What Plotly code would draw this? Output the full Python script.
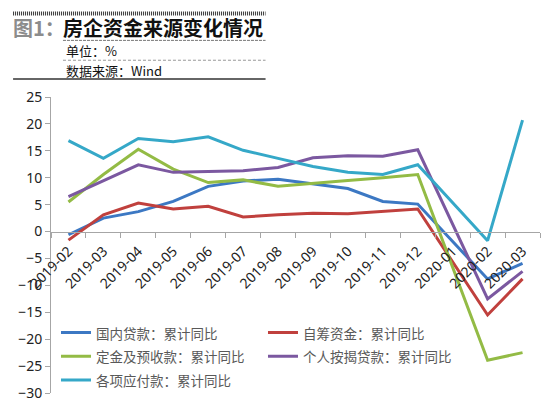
import plotly.graph_objects as go

months = ['2019-02', '2019-03', '2019-04', '2019-05', '2019-06', '2019-07', '2019-08',
          '2019-09', '2019-10', '2019-11', '2019-12', '2020-01', '2020-02', '2020-03']

# 累计同比, %（2020-01 无单独数据）
domestic_loans = [-0.6, 2.5, 3.7, 5.6, 8.4, 9.4, 9.7, 8.9, 8.0, 5.6, 5.1, None, -8.8, -5.9]
self_raised = [-1.6, 3.1, 5.3, 4.2, 4.7, 2.7, 3.1, 3.4, 3.3, 3.8, 4.2, None, -15.5, -8.8]
deposits_prepay = [5.5, 10.6, 15.3, 11.6, 9.1, 9.6, 8.4, 9.0, 9.5, 10.0, 10.6, None, -23.9, -22.5]
mortgage = [6.5, 9.4, 12.4, 11.0, 11.1, 11.3, 11.9, 13.7, 14.1, 14.0, 15.2, None, -12.5, -7.4]
payables = [16.9, 13.6, 17.3, 16.7, 17.6, 15.1, 13.6, 12.1, 11.0, 10.6, 12.4, None, -1.7, 20.7]

series = [
    ('国内贷款：累计同比', domestic_loans, '#3C78C3'),
    ('自筹资金：累计同比', self_raised, '#C0403D'),
    ('定金及预收款：累计同比', deposits_prepay, '#93BB45'),
    ('个人按揭贷款：累计同比', mortgage, '#7B58A0'),
    ('各项应付款：累计同比', payables, '#35A8C8'),
]

# page has an 8px body margin, so the figure is drawn a bit smaller
OFF = 8
W, H = 550 - OFF, 412 - OFF
L, R, T, B = 50 - OFF, 10, 97 - OFF, 17
y_min, y_max = -30, 25


def px_x(px):
    # page pixel -> paper x
    return (px - OFF - L) / (W - L - R)


def px_y(py):
    # page pixel -> paper y
    return (H - B - (py - OFF)) / (H - T - B)


fig = go.Figure()
for name, vals, color in series:
    fig.add_trace(go.Scatter(x=months, y=vals, mode='lines', connectgaps=True,
                             name='<span style="font-size:13.5px">%s</span>' % name,
                             line=dict(color=color, width=3)))

fig.update_layout(
    width=W, height=H,
    margin=dict(l=L, r=R, t=T, b=B),
    paper_bgcolor='white', plot_bgcolor='white',
    font=dict(family='Noto Sans, sans-serif', color='#333333'),
    showlegend=True,
    legend=dict(orientation='h', x=px_x(55), y=px_y(317), xanchor='left', yanchor='top',
                entrywidth=162, entrywidthmode='pixels', tracegroupgap=0,
                font=dict(family='Noto Sans CJK SC', size=16, color='#595959'),
                bgcolor='rgba(0,0,0,0)'),
)

fig.update_xaxes(
    type='category', range=[-0.5, len(months) - 0.5],
    anchor='free', position=(0 - y_min) / (y_max - y_min),
    showline=True, linecolor='#A6A6A6', linewidth=1,
    ticks='outside', ticklen=5, tickcolor='#A6A6A6', tickson='boundaries',
    tickangle=-45, ticklabelstandoff=5, tickfont=dict(size=14, color='#222222'),
    showgrid=False, zeroline=False,
)
fig.update_yaxes(
    range=[y_min, y_max], dtick=5,
    showline=True, linecolor='#A6A6A6', linewidth=1,
    ticks='outside', ticklen=5, tickcolor='#A6A6A6',
    tickfont=dict(size=14, color='#222222'),
    showgrid=False, zeroline=False,
)

# 表头
fig.add_shape(type='line', xref='paper', yref='paper', x0=px_x(12), x1=px_x(265), y0=px_y(13), y1=px_y(13),
              line=dict(color='#333333', width=4, dash='1px,1px'))
fig.add_shape(type='line', xref='paper', yref='paper', x0=px_x(62), x1=px_x(265), y0=px_y(40), y1=px_y(40),
              line=dict(color='#777777', width=1, dash='3px,1px'))
fig.add_shape(type='line', xref='paper', yref='paper', x0=px_x(62), x1=px_x(265), y0=px_y(60), y1=px_y(60),
              line=dict(color='#999999', width=1, dash='3px,2px'))
fig.add_shape(type='line', xref='paper', yref='paper', x0=px_x(12), x1=px_x(265), y0=px_y(79), y1=px_y(79),
              line=dict(color='#333333', width=1.5))

fig.add_annotation(text='<b>图1：</b>', xref='paper', yref='paper', x=px_x(10), y=px_y(27),
                   xanchor='left', yanchor='middle', showarrow=False,
                   font=dict(family='Noto Sans CJK SC', size=20, color='#8C8C8C'))
fig.add_annotation(text='<b>房企资金来源变化情况</b>', xref='paper', yref='paper', x=px_x(60), y=px_y(27),
                   xanchor='left', yanchor='middle', showarrow=False,
                   font=dict(family='Noto Sans CJK SC', size=20, color='#111111'))
fig.add_annotation(text='单位：%', xref='paper', yref='paper', x=px_x(63), y=px_y(50),
                   xanchor='left', yanchor='middle', showarrow=False,
                   font=dict(family='Noto Sans CJK SC', size=13, color='#111111'))
fig.add_annotation(text='数据来源：Wind', xref='paper', yref='paper', x=px_x(63), y=px_y(70),
                   xanchor='left', yanchor='middle', showarrow=False,
                   font=dict(family='Noto Sans CJK SC', size=13, color='#111111'))

fig.write_html('out.html')
